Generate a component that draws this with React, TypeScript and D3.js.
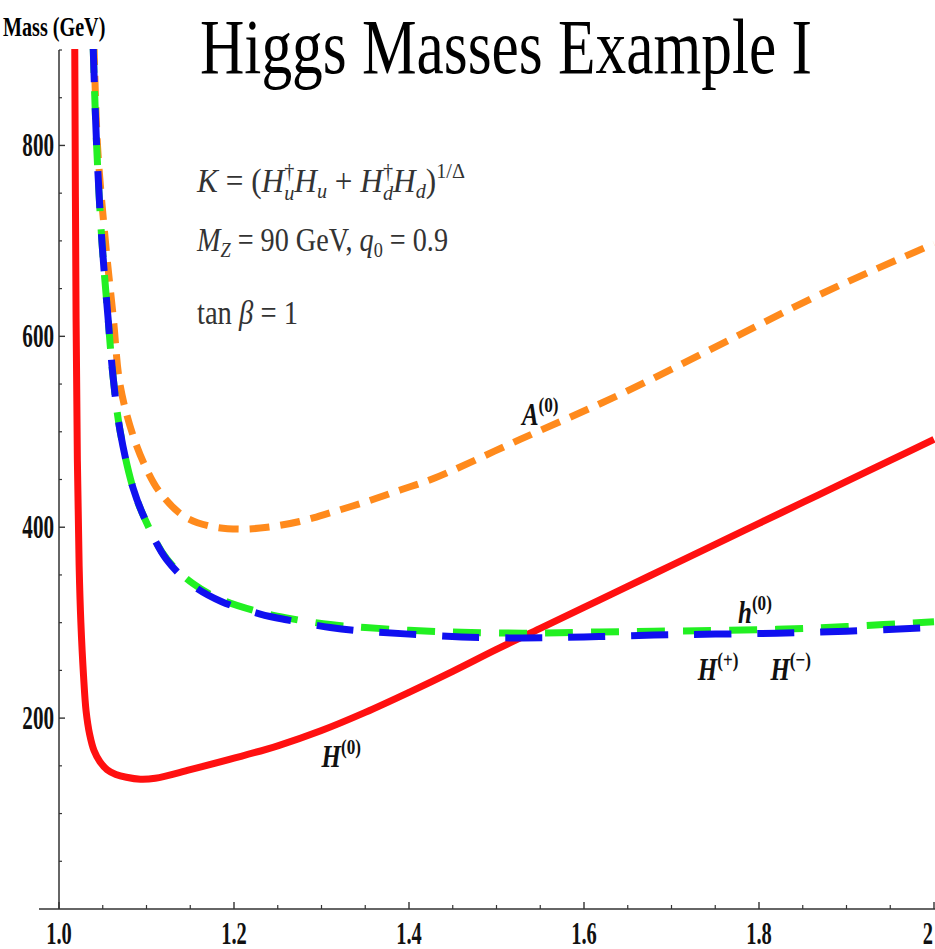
import React from 'react';
import * as d3 from 'd3';

const W = 935;
const H = 949;

// axis ticks
const xMajorTicks = [1.0, 1.2, 1.4, 1.6, 1.8, 2.0];
const xTickLabels = ['1.0', '1.2', '1.4', '1.6', '1.8', '2'];
const yMajorTicks = [200, 400, 600, 800];
const yTickLabels = ['200', '400', '600', '800'];

// H(0) – red solid
const redX = [1.018, 1.0195, 1.021, 1.023, 1.025, 1.028, 1.031, 1.035, 1.040, 1.047, 1.055, 1.065, 1.077, 1.093, 1.11, 1.15, 1.2, 1.25, 1.3, 1.35, 1.4, 1.45, 1.5, 1.55, 1.6, 1.65, 1.7, 1.75, 1.8, 1.85, 1.9, 1.95, 2.0];
const redY = [905, 620, 470, 360, 300, 245, 207, 183, 166, 154, 146, 141, 138, 136, 137, 146, 158, 171, 187, 206, 227, 249, 272, 294, 316, 338, 360, 382, 404, 426, 448, 470, 492];

// A(0) – orange dashed
const orangeX = [1.040, 1.044, 1.053, 1.062, 1.070, 1.085, 1.100, 1.115, 1.142, 1.173, 1.207, 1.238, 1.275, 1.313, 1.352, 1.39, 1.428, 1.527, 1.641, 1.755, 1.870, 2.0];
const orangeY = [905, 800, 700, 620, 548, 495, 461, 437, 412, 401, 398, 400, 406, 416, 427, 439, 451, 492, 539, 591, 644, 697];

// h(0) – green dashed
const greenX = [1.039, 1.043, 1.049, 1.056, 1.062, 1.070, 1.085, 1.100, 1.123, 1.153, 1.186, 1.23, 1.26, 1.31, 1.35, 1.40, 1.46, 1.53, 1.60, 1.68, 1.82, 1.9, 2.0];
const greenY = [905, 800, 700, 620, 556, 500, 440, 405, 367, 341, 324, 311, 305, 298, 295, 292, 290, 289, 290, 291, 293, 296, 301];

// H(+), H(-) – blue dashed
const blueX = [1.039, 1.043, 1.049, 1.056, 1.062, 1.070, 1.085, 1.100, 1.123, 1.153, 1.186, 1.23, 1.26, 1.31, 1.35, 1.40, 1.46, 1.53, 1.60, 1.68, 1.82, 1.9, 2.0];
const blueY = [905, 800, 700, 620, 556, 500, 440, 405, 366, 339, 322, 309, 303, 295, 291, 288, 285, 284, 285, 287, 289, 291, 295];

// curve labels (data coordinates of label baseline start)
const labelNames = ['A', 'H', 'h', 'H', 'H'];
const labelSups = ['(0)', '(0)', '(0)', '(+)', '(−)'];
const labelX = [1.529, 1.300, 1.776, 1.730, 1.813];
const labelY = [507, 149, 300, 240, 240];

const SERIF = '"Liberation Serif", "Times New Roman", serif';

export default function App() {
  const x = d3.scaleLinear().domain([1, 2]).range([59, 934]);
  const y = d3.scaleLinear().domain([0, 900]).range([909, 50]);
  const line = d3
    .line<[number, number]>()
    .x((d) => x(d[0]))
    .y((d) => y(d[1]))
    .curve(d3.curveCatmullRom.alpha(0.5));
  const zip = (xs: number[], ys: number[]) => xs.map((v, i) => [v, ys[i]] as [number, number]);

  const xMinor = d3.range(0, 21).map((i) => 1 + i * 0.05).filter((v) => Math.abs(Math.round(v * 5) - v * 5) > 1e-6);
  const yMinor = d3.range(1, 19).map((i) => i * 50).filter((v) => v % 200 !== 0);

  const axisColor = '#333';
  const tickSx = 0.64;

  return (
    <svg width={W} height={H} style={{ position: 'absolute', left: 0, top: 0, background: '#fff' }}>
      <defs>
        <clipPath id="plot">
          <rect x={59} y={49} width={W - 59} height={909 - 49} />
        </clipPath>
      </defs>

      {/* title */}
      <text x={200} y={73} fontFamily={SERIF} fontSize={78} textLength={612} lengthAdjust="spacingAndGlyphs" fill="#000">
        Higgs Masses Example I
      </text>

      {/* y axis label */}
      <g transform="translate(3,36) scale(0.72,1)">
        <text fontFamily={SERIF} fontWeight="bold" fontSize={28} fill="#000">Mass (GeV)</text>
      </g>

      {/* axes */}
      <line x1={59} x2={59} y1={50} y2={909} stroke={axisColor} strokeWidth={1.5} />
      <line x1={39} x2={W} y1={909} y2={909} stroke={axisColor} strokeWidth={1.5} />

      {/* y ticks */}
      {yMinor.map((v) => (
        <line key={'ym' + v} x1={59} x2={62} y1={y(v)} y2={y(v)} stroke={axisColor} strokeWidth={1.2} />
      ))}
      {yMajorTicks.map((v, i) => (
        <g key={'yM' + v}>
          <line x1={59} x2={65} y1={y(v)} y2={y(v)} stroke={axisColor} strokeWidth={1.4} />
          <g transform={`translate(54,${y(v) + 11}) scale(${tickSx},1)`}>
            <text textAnchor="end" fontFamily={SERIF} fontWeight="bold" fontSize={33} fill="#111">
              {yTickLabels[i]}
            </text>
          </g>
        </g>
      ))}

      {/* x ticks */}
      {xMinor.map((v) => (
        <line key={'xm' + v} x1={x(v)} x2={x(v)} y1={909} y2={905} stroke={axisColor} strokeWidth={1.2} />
      ))}
      {xMajorTicks.map((v, i) => {
        const lbl = xTickLabels[i];
        const half = (lbl.length * 16 * tickSx) / 2;
        const cx = Math.min(x(v), W - 2 - half);
        return (
          <g key={'xM' + v}>
            <line x1={x(v)} x2={x(v)} y1={909} y2={902} stroke={axisColor} strokeWidth={1.4} />
            <g transform={`translate(${cx},944) scale(${tickSx},1)`}>
              <text textAnchor="middle" fontFamily={SERIF} fontWeight="bold" fontSize={32} fill="#111">
                {lbl}
              </text>
            </g>
          </g>
        );
      })}

      {/* curves */}
      <g clipPath="url(#plot)" fill="none">
        <path d={line(zip(redX, redY)) || ''} stroke="#ff1010" strokeWidth={7} />
        <path d={line(zip(orangeX, orangeY)) || ''} stroke="#ff8a1c" strokeWidth={7} strokeDasharray="20 11" />
        <path d={line(zip(greenX, greenY)) || ''} stroke="#22f022" strokeWidth={7} strokeDasharray="28 18" />
        <path d={line(zip(blueX, blueY)) || ''} stroke="#1010f0" strokeWidth={7} strokeDasharray="37 26" />
      </g>

      {/* math annotations */}
      <text x={197} y={192} fontFamily={SERIF} fontSize={34} fill="#333" textLength={268} lengthAdjust="spacingAndGlyphs">
        <tspan fontStyle="italic">K</tspan>
        <tspan> = (</tspan>
        <tspan fontStyle="italic">H</tspan>
        <tspan fontStyle="italic" fontSize={22} dy={8}>u</tspan>
        <tspan fontSize={22} dx={-11} dy={-22}>†</tspan>
        <tspan fontStyle="italic" dy={14}>H</tspan>
        <tspan fontStyle="italic" fontSize={22} dy={6}>u</tspan>
        <tspan dy={-6}> + </tspan>
        <tspan fontStyle="italic">H</tspan>
        <tspan fontStyle="italic" fontSize={22} dy={8}>d</tspan>
        <tspan fontSize={22} dx={-11} dy={-22}>†</tspan>
        <tspan fontStyle="italic" dy={14}>H</tspan>
        <tspan fontStyle="italic" fontSize={22} dy={6}>d</tspan>
        <tspan dy={-6}>)</tspan>
        <tspan fontSize={22} dy={-14}>1/Δ</tspan>
      </text>

      <text x={197} y={251} fontFamily={SERIF} fontSize={34} fill="#333" textLength={251} lengthAdjust="spacingAndGlyphs">
        <tspan fontStyle="italic">M</tspan>
        <tspan fontStyle="italic" fontSize={22} dy={6}>Z</tspan>
        <tspan dy={-6}> = 90 GeV, </tspan>
        <tspan fontStyle="italic">q</tspan>
        <tspan fontSize={22} dy={6}>0</tspan>
        <tspan dy={-6}> = 0.9</tspan>
      </text>

      <text x={197} y={324} fontFamily={SERIF} fontSize={34} fill="#333" textLength={101} lengthAdjust="spacingAndGlyphs">
        <tspan>tan </tspan>
        <tspan fontStyle="italic">β</tspan>
        <tspan> = 1</tspan>
      </text>

      {/* curve labels */}
      {labelNames.map((n, i) => (
        <g key={'lab' + i} transform={`translate(${x(labelX[i])},${y(labelY[i])}) scale(0.78,1)`}>
          <text fontFamily={SERIF} fontWeight="bold" fontStyle="italic" fontSize={32} fill="#111">
            {n}
            <tspan fontSize={22} fontStyle="normal" dy={-13}>{labelSups[i]}</tspan>
          </text>
        </g>
      ))}
    </svg>
  );
}
